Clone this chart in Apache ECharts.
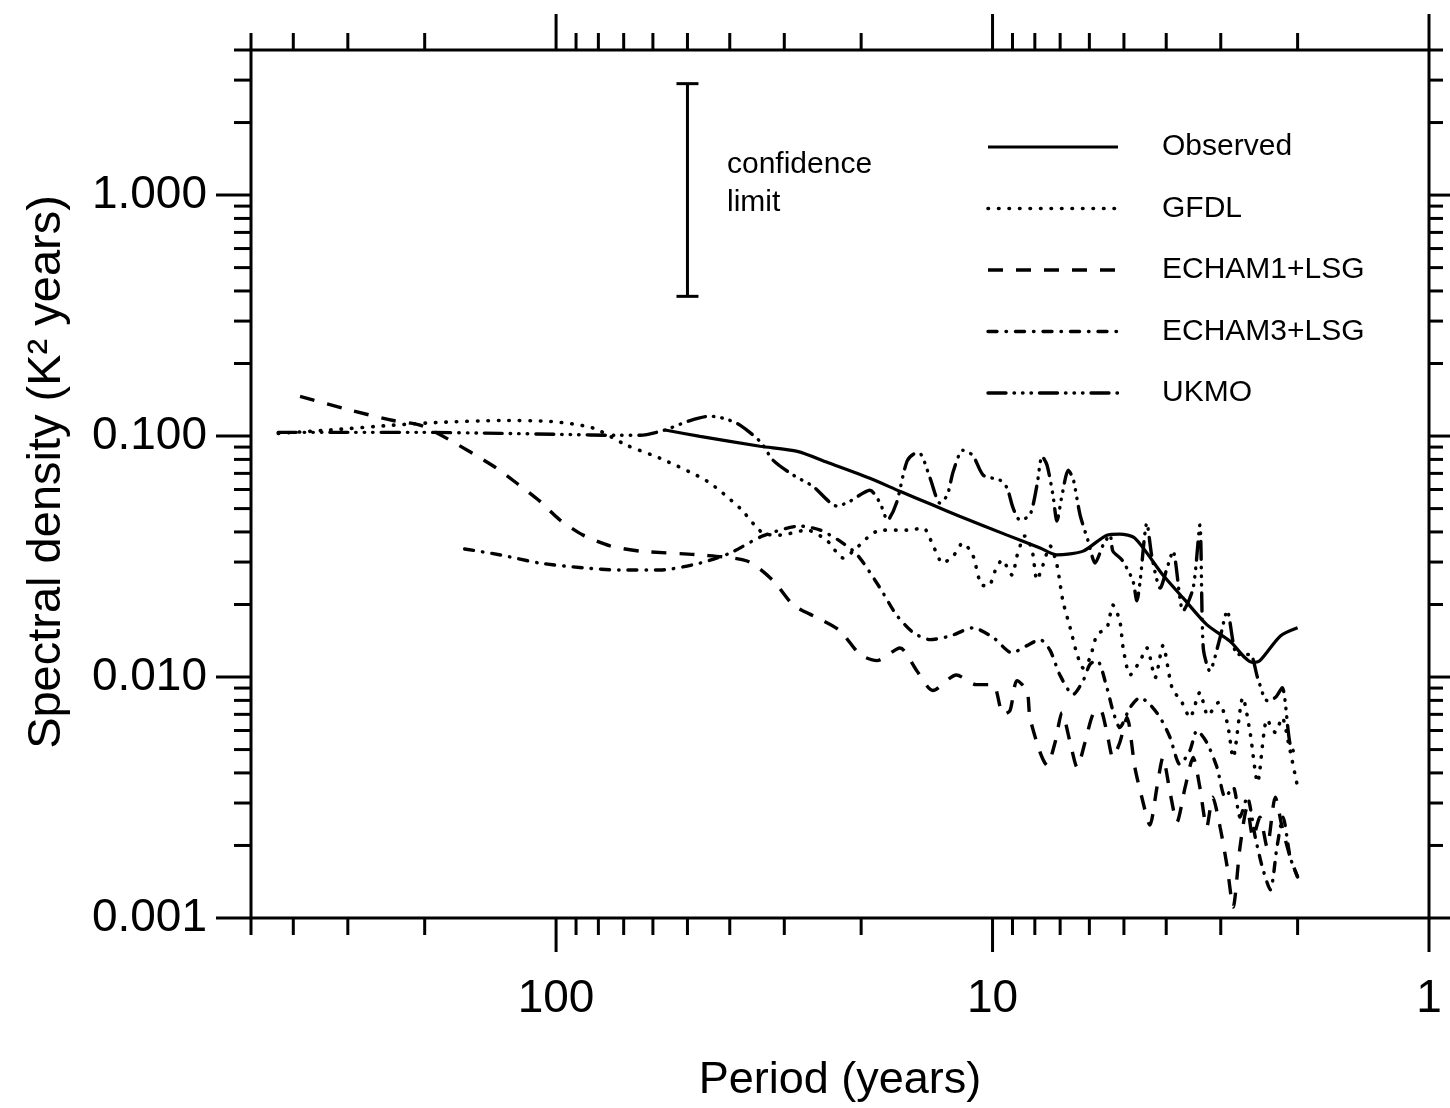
<!DOCTYPE html>
<html>
<head>
<meta charset="utf-8">
<script src="https://cdn.jsdelivr.net/npm/echarts@6/dist/echarts.min.js"></script>
<style>
html, body { margin: 0; padding: 0; background: #fff; }
#chart { width: 1450px; height: 1108px; }
</style>
</head>
<body>
<div id="chart"></div>
<script>
// ---------- axis ticks & labels ----------
const xMajorTicks = [100, 10, 1];
const xTickLabels = ['100', '10', '1'];
const xMinorTicks = [500, 400, 300, 200, 90, 80, 70, 60, 50, 40, 30, 20, 9, 8, 7, 6, 5, 4, 3, 2];
const yMajorTicks = [1, 0.1, 0.01, 0.001];
const yTickLabels = ['1.000', '0.100', '0.010', '0.001'];
const yMinorTicks = [4, 3, 2, 0.9, 0.8, 0.7, 0.6, 0.5, 0.4, 0.3, 0.2,
  0.09, 0.08, 0.07, 0.06, 0.05, 0.04, 0.03, 0.02,
  0.009, 0.008, 0.007, 0.006, 0.005, 0.004, 0.003, 0.002];

// ---------- series names ----------
const seriesNames = ['Observed', 'GFDL', 'ECHAM1+LSG', 'ECHAM3+LSG', 'UKMO'];

// ---------- data (period in years, spectral density in K^2 years) ----------
const obsPeriod = [56.3, 46.8, 34.1, 28.0, 23.6, 19.1, 16.3, 13.7, 11.9, 9.26, 7.78, 7.12, 6.20, 5.47, 5.11, 4.72, 4.07, 3.66, 3.23, 2.86, 2.54, 2.44, 2.19, 2.0];
const obsDensity = [0.106, 0.0997, 0.0907, 0.0864, 0.0771, 0.0668, 0.0590, 0.0517, 0.0465, 0.0388, 0.0343, 0.0321, 0.0333, 0.0388, 0.0392, 0.0377, 0.0265, 0.0213, 0.0165, 0.0141, 0.0115, 0.0117, 0.0148, 0.0160];

const gfdlPeriod = [433, 329, 236, 184, 134, 103, 82.3, 68.8, 57.8, 45.1, 37.9, 33.6, 30.7, 26.6, 23.9, 22.0, 20.7, 19.4, 18.1, 15.7, 14.4, 13.7, 13.0, 12.3, 11.7, 11.1, 10.6, 10.2, 9.87, 9.51, 9.02, 8.79, 8.43, 8.12, 7.91, 7.66, 7.38, 7.12, 6.90, 6.64, 6.40, 6.20, 5.98, 5.76, 5.47, 5.30, 5.11, 5.02, 4.84, 4.59, 4.43, 4.24, 4.07, 3.88, 3.68, 3.53, 3.35, 3.21, 3.04, 2.90, 2.81, 2.67, 2.57, 2.47, 2.35, 2.25, 2.17, 2.10, 2.0];
const gfdlDensity = [0.1026, 0.106, 0.111, 0.114, 0.116, 0.115, 0.108, 0.0915, 0.0809, 0.0650, 0.0502, 0.0396, 0.0388, 0.0407, 0.0367, 0.0312, 0.0337, 0.0377, 0.0407, 0.0407, 0.0415, 0.0353, 0.0297, 0.0318, 0.0360, 0.0321, 0.0241, 0.0239, 0.0275, 0.0306, 0.0265, 0.0318, 0.0385, 0.0337, 0.0253, 0.0292, 0.0350, 0.0292, 0.0207, 0.0160, 0.0124, 0.0109, 0.0120, 0.0150, 0.0160, 0.0199, 0.0171, 0.0132, 0.0102, 0.0117, 0.0132, 0.00994, 0.0135, 0.00904, 0.00783, 0.00679, 0.00862, 0.00692, 0.00783, 0.00648, 0.00464, 0.00822, 0.00589, 0.00366, 0.00666, 0.00589, 0.00679, 0.00535, 0.00349];

const echam1Period = [386, 296, 236, 205, 178, 139, 123, 109, 97.9, 86.7, 75.2, 64.2, 46.8, 36.5, 31.8, 28.6, 25.2, 22.4, 20.1, 18.4, 16.3, 14.9, 13.7, 12.1, 10.9, 9.97, 9.46, 9.12, 8.79, 8.34, 8.21, 7.78, 7.50, 7.19, 6.93, 6.64, 6.40, 6.14, 5.89, 5.67, 5.47, 5.30, 5.11, 4.92, 4.72, 4.55, 4.36, 4.20, 4.07, 3.92, 3.78, 3.62, 3.47, 3.35, 3.23, 3.13, 3.01, 2.90, 2.81, 2.71, 2.61, 2.53, 2.44, 2.35, 2.25, 2.17, 2.08, 2.0];
const echam1Density = [0.146, 0.128, 0.116, 0.111, 0.0978, 0.0749, 0.0637, 0.0537, 0.0448, 0.0388, 0.0350, 0.0333, 0.0321, 0.0303, 0.0251, 0.0199, 0.0176, 0.0156, 0.0124, 0.0117, 0.0132, 0.0106, 0.00879, 0.0102, 0.00930, 0.00930, 0.00699, 0.00726, 0.00966, 0.00879, 0.00679, 0.00487, 0.00430, 0.00535, 0.00712, 0.00535, 0.00422, 0.00535, 0.00699, 0.00733, 0.00589, 0.00464, 0.00535, 0.00679, 0.00422, 0.00317, 0.00243, 0.00349, 0.00464, 0.00332, 0.00250, 0.00349, 0.00464, 0.00349, 0.00238, 0.00317, 0.00238, 0.00163, 0.00111, 0.00197, 0.00288, 0.00216, 0.00262, 0.00197, 0.00317, 0.00238, 0.00179, 0.00148];

const echam3Period = [162, 134, 109, 86.7, 71.4, 57.8, 46.8, 39.9, 33.6, 27.6, 24.8, 22.4, 20.4, 18.1, 16.6, 15.2, 13.9, 12.5, 11.1, 9.97, 9.02, 8.34, 7.78, 7.38, 7.01, 6.54, 6.20, 5.98, 5.76, 5.47, 5.30, 5.11, 4.84, 4.59, 4.36, 4.13, 3.92, 3.72, 3.53, 3.40, 3.23, 3.06, 2.93, 2.81, 2.71, 2.61, 2.50, 2.41, 2.31, 2.23, 2.16, 2.08, 2.0];
const echam3Density = [0.0340, 0.0321, 0.0297, 0.0284, 0.0278, 0.0278, 0.0297, 0.0327, 0.0385, 0.0423, 0.0407, 0.0367, 0.0321, 0.0234, 0.0181, 0.0153, 0.0143, 0.0148, 0.0160, 0.0146, 0.0126, 0.0135, 0.0143, 0.0129, 0.0102, 0.00846, 0.00966, 0.0113, 0.0117, 0.00904, 0.00726, 0.00617, 0.00747, 0.00822, 0.00769, 0.00679, 0.00561, 0.00434, 0.00496, 0.00600, 0.00535, 0.00422, 0.00317, 0.00349, 0.00262, 0.00317, 0.00216, 0.00163, 0.00131, 0.00197, 0.00262, 0.00179, 0.00148];

const ukmoPeriod = [433, 296, 205, 134, 97.9, 71.4, 64.2, 56.3, 49.3, 44.4, 41.0, 37.9, 34.1, 31.8, 28.6, 25.8, 22.7, 21.2, 19.1, 18.1, 17.4, 16.6, 15.7, 15.0, 14.7, 13.9, 13.2, 12.7, 12.3, 11.7, 11.1, 10.5, 9.61, 9.26, 8.97, 8.65, 8.21, 7.91, 7.70, 7.50, 7.27, 7.12, 6.93, 6.71, 6.54, 6.30, 6.04, 5.82, 5.58, 5.38, 5.30, 5.05, 4.77, 4.67, 4.59, 4.43, 4.31, 4.13, 3.98, 3.86, 3.66, 3.47, 3.35, 3.29, 3.18, 3.01, 2.90, 2.75, 2.57, 2.47, 2.35, 2.25, 2.17, 2.08, 2.0];
const ukmoDensity = [0.1036, 0.1036, 0.1036, 0.1026, 0.1016, 0.1007, 0.1007, 0.106, 0.116, 0.121, 0.118, 0.111, 0.0950, 0.0793, 0.0688, 0.0619, 0.0512, 0.0537, 0.0596, 0.0527, 0.0448, 0.0527, 0.0786, 0.0848, 0.0848, 0.0668, 0.0527, 0.0568, 0.0714, 0.0873, 0.0832, 0.0688, 0.0656, 0.0608, 0.0502, 0.0448, 0.0470, 0.0625, 0.0824, 0.0756, 0.0568, 0.0444, 0.0568, 0.0721, 0.0668, 0.0470, 0.0367, 0.0297, 0.0353, 0.0388, 0.0333, 0.0306, 0.0251, 0.0207, 0.0251, 0.0435, 0.0312, 0.0234, 0.0284, 0.0333, 0.0188, 0.0234, 0.0427, 0.0132, 0.0106, 0.0146, 0.0188, 0.0124, 0.0124, 0.00994, 0.00799, 0.00822, 0.00904, 0.00525, 0.00464];

// confidence limit bar
const confPeriod = [50];
const confLow = [0.38];
const confHigh = [2.9];

// ---------- styles ----------
const FONT = "'Liberation Sans', Arial, Helvetica, sans-serif";
const lineStyles = [
  { type: 'solid', cap: 'butt', width: 3.2 },
  { type: [0.5, 10], cap: 'round', width: 3.6 },
  { type: [15, 13], cap: 'butt', width: 3.4 },
  { type: [9, 9, 0.5, 9], cap: 'round', width: 3.4 },
  { type: [18, 8, 0.5, 8, 0.5, 8, 0.5, 8], cap: 'round', width: 3.4 }
];
const pairs = [
  [obsPeriod, obsDensity],
  [gfdlPeriod, gfdlDensity],
  [echam1Period, echam1Density],
  [echam3Period, echam3Density],
  [ukmoPeriod, ukmoDensity]
];

function isClose(a, b) { return Math.abs(Math.log10(a) - Math.log10(b)) < 1e-6; }
function labelFor(v, ticks, labels) {
  for (let i = 0; i < ticks.length; i++) if (isClose(v, ticks[i])) return labels[i];
  return '';
}

const chart = echarts.init(document.getElementById('chart'), null, { renderer: 'canvas' });

const lineSeries = seriesNames.map((name, k) => ({
  name: name,
  type: 'line',
  data: pairs[k][0].map((p, i) => [p, pairs[k][1][i]]),
  showSymbol: false,
  symbol: 'none',
  smooth: 0.25,
  silent: true,
  z: 3,
  lineStyle: {
    color: '#000',
    width: lineStyles[k].width,
    type: lineStyles[k].type,
    cap: lineStyles[k].cap
  }
}));

const xTickData = xMajorTicks.map(v => [v, 1, 1]).concat(xMinorTicks.map(v => [v, 1, 0]));
const yTickData = yMajorTicks.map(v => [10, v, 1]).concat(yMinorTicks.map(v => [10, v, 0]));

const tickStyle = { stroke: '#000', lineWidth: 3 };

const xTickSeries = {
  type: 'custom', silent: true, clip: false, z: 5,
  data: xTickData,
  renderItem: function (params, api) {
    const cs = params.coordSys;
    const px = api.coord([api.value(0), api.value(1)])[0];
    const major = api.value(2) === 1;
    const b = cs.y + cs.height;
    return {
      type: 'group', children: [
        { type: 'line', shape: { x1: px, y1: b, x2: px, y2: b + (major ? 34 : 17) }, style: tickStyle },
        { type: 'line', shape: { x1: px, y1: cs.y, x2: px, y2: cs.y - (major ? 36 : 17) }, style: tickStyle }
      ]
    };
  }
};

const yTickSeries = {
  type: 'custom', silent: true, clip: false, z: 5,
  data: yTickData,
  renderItem: function (params, api) {
    const cs = params.coordSys;
    const py = api.coord([api.value(0), api.value(1)])[1];
    const major = api.value(2) === 1;
    const r = cs.x + cs.width;
    return {
      type: 'group', children: [
        { type: 'line', shape: { x1: cs.x, y1: py, x2: cs.x - (major ? 35 : 17), y2: py }, style: tickStyle },
        { type: 'line', shape: { x1: r, y1: py, x2: r + (major ? 22 : 14), y2: py }, style: tickStyle }
      ]
    };
  }
};

const confSeries = {
  type: 'custom', silent: true, clip: false, z: 4,
  data: confPeriod.map((p, i) => [p, confLow[i], confHigh[i]]),
  renderItem: function (params, api) {
    const lo = api.coord([api.value(0), api.value(1)]);
    const hi = api.coord([api.value(0), api.value(2)]);
    const st = { stroke: '#000', lineWidth: 3 };
    return {
      type: 'group', children: [
        { type: 'line', shape: { x1: lo[0], y1: lo[1], x2: hi[0], y2: hi[1] }, style: st },
        { type: 'line', shape: { x1: lo[0] - 11, y1: lo[1], x2: lo[0] + 11, y2: lo[1] }, style: st },
        { type: 'line', shape: { x1: hi[0] - 11, y1: hi[1], x2: hi[0] + 11, y2: hi[1] }, style: st }
      ]
    };
  }
};

// legend drawn as graphic (line samples with dash patterns)
const legendGraphics = [];
seriesNames.forEach((name, k) => {
  const yy = 147 + k * 61.5;
  legendGraphics.push({
    type: 'line',
    shape: { x1: 988, y1: yy, x2: 1118, y2: yy },
    style: {
      stroke: '#000', lineWidth: lineStyles[k].width,
      lineDash: lineStyles[k].type === 'solid' ? null : lineStyles[k].type,
      lineCap: lineStyles[k].cap
    }
  });
  legendGraphics.push({
    type: 'text', x: 1162, y: yy,
    style: { text: name, fontSize: 30, fontFamily: FONT, fill: '#000', verticalAlign: 'middle', align: 'left' }
  });
});

const option = {
  animation: false,
  backgroundColor: '#fff',
  grid: {
    left: 251, top: 50, right: 21, bottom: 187,
    show: true, borderColor: '#000', borderWidth: 3, backgroundColor: 'transparent'
  },
  xAxis: {
    type: 'log', logBase: 10, min: 1, max: 500, inverse: true,
    name: 'Period (years)', nameLocation: 'middle', nameGap: 140,
    nameTextStyle: { fontSize: 45, fontFamily: FONT, color: '#000' },
    axisLine: { show: false }, axisTick: { show: false }, splitLine: { show: false },
    axisLabel: {
      margin: 58, fontSize: 46, fontFamily: FONT, color: '#000',
      formatter: v => labelFor(v, xMajorTicks, xTickLabels)
    }
  },
  yAxis: {
    type: 'log', logBase: 10, min: 0.001, max: 4,
    name: 'Spectral density (K² years)', nameLocation: 'middle', nameGap: 180,
    nameTextStyle: { fontSize: 47, fontFamily: FONT, color: '#000', padding: [0, 0, 0, 24] },
    axisLine: { show: false }, axisTick: { show: false }, splitLine: { show: false },
    axisLabel: {
      margin: 44, fontSize: 46, fontFamily: FONT, color: '#000',
      formatter: v => labelFor(v, yMajorTicks, yTickLabels)
    }
  },
  graphic: [
    {
      type: 'text', x: 727, y: 146,
      style: { text: 'confidence\nlimit', fontSize: 30, fontFamily: FONT, fill: '#000', lineHeight: 38 }
    }
  ].concat(legendGraphics),
  series: lineSeries.concat([xTickSeries, yTickSeries, confSeries])
};

chart.setOption(option);
</script>
</body>
</html>
